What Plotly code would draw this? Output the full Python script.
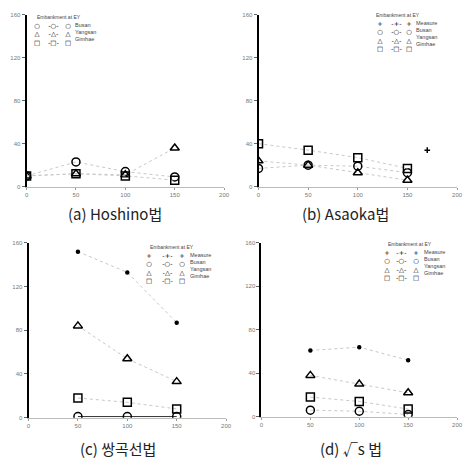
import plotly.graph_objects as go

# ---- data ----
x_a = [0, 50, 100, 150]
a_circle = [10, 23, 14, 9]
a_triangle = [10, 12, 11, 36]
a_square = [10, 12, 10, 6]

x_b = [0, 50, 100, 150]
b_measure_x = [170]
b_measure = [34]
b_circle = [17, 20, 19, 13]
b_triangle = [24, 20, 13, 6]
b_square = [40, 34, 27, 17]

x_c = [50, 100, 150]
c_measure = [152, 133, 87]
c_circle = [1, 1, 1]
c_triangle = [84, 54, 33]
c_square = [18, 14, 8]

x_d = [50, 100, 150]
d_measure = [61, 64, 52]
d_circle = [6, 5, 2]
d_triangle = [38, 30, 22]
d_square = [18, 14, 7]

x_ticks = [0, 50, 100, 150, 200]
y_ticks = [0, 40, 80, 120, 160]
captions = ["(a) Hoshino법", "(b) Asaoka법", "(c) 쌍곡선법", "(d) √s 법"]
names = ["Measure", "Busan", "Yangsan", "Gimhae"]
legend_title = "Embankment at EY"

fig = go.Figure()

def add(x, y, sym, name, ax, size=8, line_col="#c8c8c8", dash="dot", lw=1):
    fig.add_trace(go.Scatter(
        x=x, y=y, mode="lines+markers", name=name, showlegend=False,
        xaxis="x" + ax, yaxis="y" + ax,
        marker=dict(symbol=sym, size=size, color="black",
                    line=dict(color="black", width=1.5)),
        line=dict(color=line_col, width=lw, dash=dash),
    ))

# (a)
add(x_a, a_circle, "circle-open", names[1], "")
add(x_a, a_triangle, "triangle-up-open", names[2], "")
add(x_a, a_square, "square-open", names[3], "")
# (b)
add(b_measure_x, b_measure, "cross-thin-open", names[0], "2", size=4)
add(x_b, b_circle, "circle-open", names[1], "2")
add(x_b, b_triangle, "triangle-up-open", names[2], "2")
add(x_b, b_square, "square-open", names[3], "2")
# (c)
add(x_c, c_measure, "circle", names[0], "3", size=3)
add(x_c, c_circle, "circle-open", names[1], "3", line_col="#333", dash="solid")
add(x_c, c_triangle, "triangle-up-open", names[2], "3")
add(x_c, c_square, "square-open", names[3], "3")
# (d)
add(x_d, d_measure, "circle", names[0], "4", size=3)
add(x_d, d_circle, "circle-open", names[1], "4")
add(x_d, d_triangle, "triangle-up-open", names[2], "4")
add(x_d, d_square, "square-open", names[3], "4")

W, H = 466, 471
def px_x(p): return p / W
def px_y(p): return 1 - p / H

domains = {
    "": ([25, 226], [12, 186]),
    "2": ([261, 463], [12, 186]),
    "3": ([27, 228], [243, 420]),
    "4": ([264, 463], [243, 419]),
}

axcommon_x = dict(range=[0, 200], tickvals=x_ticks, showgrid=False, zeroline=False,
                  showline=True, linecolor="#bbbbbb", linewidth=1,
                  ticks="outside", ticklen=2, tickcolor="#999",
                  tickfont=dict(size=6, color="#777", family="Liberation Sans"))
axcommon_y = dict(range=[0, 160], tickvals=y_ticks, showgrid=False, zeroline=False,
                  showline=True, linecolor="black", linewidth=2,
                  ticks="outside", ticklen=3, tickcolor="#666",
                  tickfont=dict(size=6, color="#777", family="Liberation Sans"))

layout = dict(width=W, height=H, margin=dict(l=0, r=0, t=0, b=0),
              plot_bgcolor="white", paper_bgcolor="white", showlegend=False)
for k, (xd, yd) in domains.items():
    layout["xaxis" + k] = dict(axcommon_x, domain=[px_x(xd[0]), px_x(xd[1])],
                               anchor="y" + k)
    layout["yaxis" + k] = dict(axcommon_y, domain=[px_y(yd[1]), px_y(yd[0])],
                               anchor="x" + k)
fig.update_layout(**layout)

# compact hand-drawn legends (text glyphs, one annotation per column)
sym_glyph = {"Measure": "+", "Busan": "○", "Yangsan": "△", "Gimhae": "□"}

def txt(t, x, y, size=7, color="#333", anchor="center", yanchor="middle",
        family="DejaVu Sans", align="center"):
    fig.add_annotation(text=t, x=px_x(x), y=px_y(y), xref="paper", yref="paper",
                       showarrow=False, xanchor=anchor, yanchor=yanchor,
                       align=align, borderpad=0,
                       font=dict(size=size, color=color, family=family))

legends = [
    # title (x,y), top of rows, columns x (c1, c2, c3, label), names
    ((58, 14), 18, (36, 52, 67, 73), names[1:]),
    ((403, 12), 16, (385, 401, 414, 420), names),
    ((173, 247), 251, (150, 168, 183, 190), names),
    ((415, 244), 248, (392, 406, 421, 428), names),
]
fs = 6.5
for (tx, ty), top, (c1, c2, c3, cl), nms in legends:
    txt(legend_title, tx, ty, size=5, color="#444", family="Liberation Sans")
    gl = [sym_glyph[n] for n in nms]
    txt("<br>".join(gl), c1, top, size=fs, color="black", yanchor="top")
    txt("<br>".join("-" + g + "-" for g in gl), c2, top, size=fs, color="black",
        yanchor="top")
    txt("<br>".join(gl), c3, top, size=fs, color="black", yanchor="top")
    txt("<br>".join(nms), cl, top, size=5.5, color="#444", anchor="left",
        yanchor="top", family="Liberation Sans", align="left")

cap_pos = [(115, 213), (350, 213), (118, 451), (355, 451)]
for t, (cx, cy) in zip(captions, cap_pos):
    txt(t, cx, cy, size=15, color="#222", family="Noto Sans CJK KR")

fig.write_html("out.html")
